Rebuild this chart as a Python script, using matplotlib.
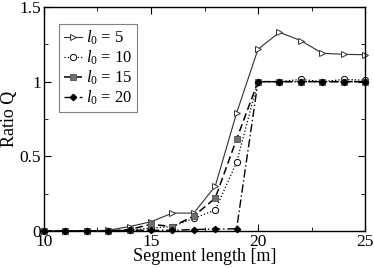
import numpy as np
import matplotlib
matplotlib.use('Agg')
import matplotlib.pyplot as plt
from matplotlib.ticker import MultipleLocator

plt.rcParams['font.family'] = 'Liberation Serif'
plt.rcParams['mathtext.fontset'] = 'custom'
plt.rcParams['mathtext.rm'] = 'Liberation Serif'
plt.rcParams['mathtext.it'] = 'Liberation Serif:italic'

# Data
seg_len = [10, 11, 12, 13, 14, 15, 16, 17, 18, 19, 20, 21, 22, 23, 24, 25]
q_l5 = [0, 0, 0, 0.005, 0.03, 0.062, 0.12, 0.12, 0.30, 0.79, 1.217, 1.33, 1.275, 1.19, 1.183, 1.18]
q_l10 = [0, 0, 0, 0, 0.005, 0.02, 0.03, 0.085, 0.14, 0.46, 1.0, 1.0, 1.015, 1.0, 1.015, 1.01]
q_l15 = [0, 0, 0, 0, 0.01, 0.045, 0.03, 0.10, 0.22, 0.615, 1.0, 1.0, 1.0, 1.0, 1.0, 1.0]
q_l20 = [0, 0, 0, 0, 0.005, 0.005, 0.005, 0.01, 0.013, 0.015, 1.0, 1.0, 1.0, 1.0, 1.0, 1.0]

fig = plt.figure(figsize=(3.74, 2.68), dpi=100)
ax = fig.add_axes([0.1176, 0.138, 0.976 - 0.1176, 0.974 - 0.138])

ax.plot(seg_len, q_l5, color='#303030', lw=0.8, marker='>', ms=5,
        mfc='white', mec='#303030', mew=0.7, label='$l_0$ = 5', clip_on=False)
ax.plot(seg_len, q_l10, color='black', lw=0.9, ls=':', marker='o', ms=4.5,
        mfc='white', mec='black', mew=0.7, label='$l_0$ = 10', clip_on=False)
ax.plot(seg_len, q_l15, color='black', lw=1.1, ls=(0, (5, 2.5)), marker='s', ms=4.5,
        mfc='#707070', mec='#505050', mew=0.6, label='$l_0$ = 15', clip_on=False)
ax.plot(seg_len, q_l20, color='black', lw=1.0, ls=(0, (6, 2, 1, 2)), marker='D', ms=3.2,
        mfc='black', mec='black', label='$l_0$ = 20', clip_on=False)

ax.set_xlim(10, 25)
ax.set_ylim(0, 1.5)
ax.xaxis.set_major_locator(MultipleLocator(5))
ax.xaxis.set_minor_locator(MultipleLocator(2.5))
ax.yaxis.set_minor_locator(MultipleLocator(0.25))
ax.set_yticks([0, 0.5, 1, 1.5])
ax.set_yticklabels(['0', '0.5', '1', '1.5'])
ax.tick_params(which='both', direction='in', top=True, right=True, labelsize=12.5, pad=2)
ax.tick_params(which='major', length=5)
ax.tick_params(which='minor', length=3)
for s in ax.spines.values():
    s.set_linewidth(1.0)

ax.set_xlabel('Segment length [m]', fontsize=13, labelpad=-1)
ax.set_ylabel('Ratio Q', fontsize=13, labelpad=1)

leg = ax.legend(loc='upper left', bbox_to_anchor=(0.047, 0.925), fontsize=12,
                handlelength=1.1, handletextpad=0.2, labelspacing=0.1,
                borderpad=0.3, borderaxespad=0, fancybox=False, framealpha=1)
leg.get_frame().set_edgecolor('#808080')
leg.get_frame().set_linewidth(0.8)

plt.savefig('out.png', dpi=100)
